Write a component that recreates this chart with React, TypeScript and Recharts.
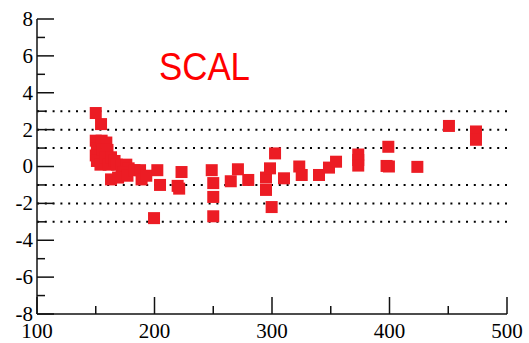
import React from 'react';
import { ScatterChart, Scatter, XAxis, YAxis, ReferenceLine } from 'recharts';

// point positions
const pointX = [
  150, 154.5,
  150, 151, 150, 151, 155, 156, 154, 159, 160, 158, 161, 163, 166, 168, 172, 176, 178, 174,
  163, 169, 177, 183, 187.7, 189, 193,
  199.6, 202.4, 204.7, 219.7, 221, 223,
  248.7, 250, 250, 250, 264.9, 271, 279.8,
  294.9, 294.9, 298.3, 302.6, 299.7, 310.2,
  323.2, 325.3, 340, 348.5, 354.5,
  373.4, 373.4, 373.4,
  399, 397.5, 399.5, 423.7, 450.6, 473.6, 473.6,
];
const pointY = [
  2.9, 2.3,
  1.4, 1.0, 0.6, 0.3, 1.4, 0.9, 0.1, 1.3, 0.9, 0.5, 0.1, 0.5, 0.3, 0.1, 0.0, 0.1, -0.1, -0.3,
  -0.7, -0.6, -0.5, -0.2, -0.2, -0.7, -0.5,
  -2.8, -0.2, -1.0, -1.05, -1.2, -0.3,
  -0.2, -0.9, -1.65, -2.7, -0.8, -0.15, -0.73,
  -0.6, -1.27, -0.1, 0.71, -2.2, -0.64,
  0, -0.46, -0.46, -0.06, 0.26,
  0.65, 0.35, 0.05,
  1.07, 0.03, 0, -0.02, 2.2, 1.9, 1.45,
];

const xTicks = [100, 150, 200, 250, 300, 350, 400, 450, 500];
const xLabels = [100, 200, 300, 400, 500];
const yTicks = [-8, -7, -6, -5, -4, -3, -2, -1, 0, 1, 2, 3, 4, 5, 6, 7, 8];
const yLabels = [-8, -6, -4, -2, 0, 2, 4, 6, 8];
const dottedLevels = [3, 2, 1, -1, -2, -3];

const data = pointX.map((x, i) => ({ x, y: pointY[i] }));

const INK = '#111';
const SERIF = 'Liberation Serif, DejaVu Serif, serif';
const MARK = 12;

const BottomTick = (props: any) => {
  const { x, y, payload } = props;
  const major = xLabels.includes(payload.value);
  return (
    <g>
      <line x1={x} x2={x} y1={y} y2={y - (major ? 17 : 8)} stroke={INK} strokeWidth={1.5} />
      {major && (
        <text x={x} y={y + 24} textAnchor="middle" fontFamily={SERIF} fontSize={21} fill="#000">
          {payload.value}
        </text>
      )}
    </g>
  );
};

const TopTick = (props: any) => {
  const { x, y, payload } = props;
  const major = xLabels.includes(payload.value);
  return <line x1={x} x2={x} y1={y} y2={y + (major ? 17 : 8)} stroke={INK} strokeWidth={1.5} />;
};

const LeftTick = (props: any) => {
  const { x, y, payload } = props;
  const major = yLabels.includes(payload.value);
  return (
    <g>
      <line x1={x} x2={x + (major ? 17 : 8)} y1={y} y2={y} stroke={INK} strokeWidth={1.5} />
      {major && (
        <text x={x - 4} y={y} dy="0.33em" textAnchor="end" fontFamily={SERIF} fontSize={21} fill="#000">
          {payload.value}
        </text>
      )}
    </g>
  );
};

const RightTick = (props: any) => {
  const { x, y, payload } = props;
  const major = yLabels.includes(payload.value);
  return <line x1={x} x2={x - (major ? 17 : 8)} y1={y} y2={y} stroke={INK} strokeWidth={1.5} />;
};

const SquareMark = (props: any) => {
  const { cx, cy } = props;
  return <rect x={cx - MARK / 2} y={cy - MARK / 2} width={MARK} height={MARK} fill="#ec1c24" />;
};

export default function App() {
  return (
    <div style={{ position: 'absolute', left: 0, top: 0, width: 529, height: 343, background: '#fff' }}>
      <ScatterChart width={529} height={343} margin={{ top: 19, right: 22, bottom: 0, left: 0 }}>
        <XAxis
          xAxisId="b"
          type="number"
          dataKey="x"
          domain={[100, 500]}
          ticks={xTicks}
          allowDataOverflow
          height={29}
          tickSize={0}
          tickMargin={0}
          interval={0}
          axisLine={{ stroke: INK, strokeWidth: 1.5 }}
          tick={BottomTick}
        />
        <XAxis
          xAxisId="t"
          orientation="top"
          type="number"
          dataKey="x"
          domain={[100, 500]}
          ticks={xTicks}
          allowDataOverflow
          height={0}
          tickSize={0}
          tickMargin={0}
          interval={0}
          axisLine={{ stroke: INK, strokeWidth: 1.5 }}
          tick={TopTick}
        />
        <YAxis
          yAxisId="l"
          type="number"
          dataKey="y"
          domain={[-8, 8]}
          ticks={yTicks}
          allowDataOverflow
          width={37}
          tickSize={0}
          tickMargin={0}
          interval={0}
          axisLine={{ stroke: INK, strokeWidth: 1.5 }}
          tick={LeftTick}
        />
        <YAxis
          yAxisId="r"
          orientation="right"
          type="number"
          dataKey="y"
          domain={[-8, 8]}
          ticks={yTicks}
          allowDataOverflow
          width={0}
          tickSize={0}
          tickMargin={0}
          interval={0}
          axisLine={{ stroke: INK, strokeWidth: 1.5 }}
          tick={RightTick}
        />
        {dottedLevels.map((v) => (
          <ReferenceLine
            key={v}
            xAxisId="b"
            yAxisId="l"
            y={v}
            stroke="#000"
            strokeWidth={2}
            strokeDasharray="2 5.8"
          />
        ))}
        <Scatter
          xAxisId="b"
          yAxisId="l"
          data={data}
          shape={SquareMark}
          fill="#ec1c24"
          legendType="none"
          isAnimationActive={false}
        />
      </ScatterChart>
      <svg width={529} height={343} style={{ position: 'absolute', left: 0, top: 0, pointerEvents: 'none' }}>
        <text
          x={159}
          y={80}
          fontSize={39}
          fontFamily="Liberation Sans, Arial, sans-serif"
          fill="#ff0000"
          textLength={91}
          lengthAdjust="spacingAndGlyphs"
        >
          SCAL
        </text>
      </svg>
    </div>
  );
}
